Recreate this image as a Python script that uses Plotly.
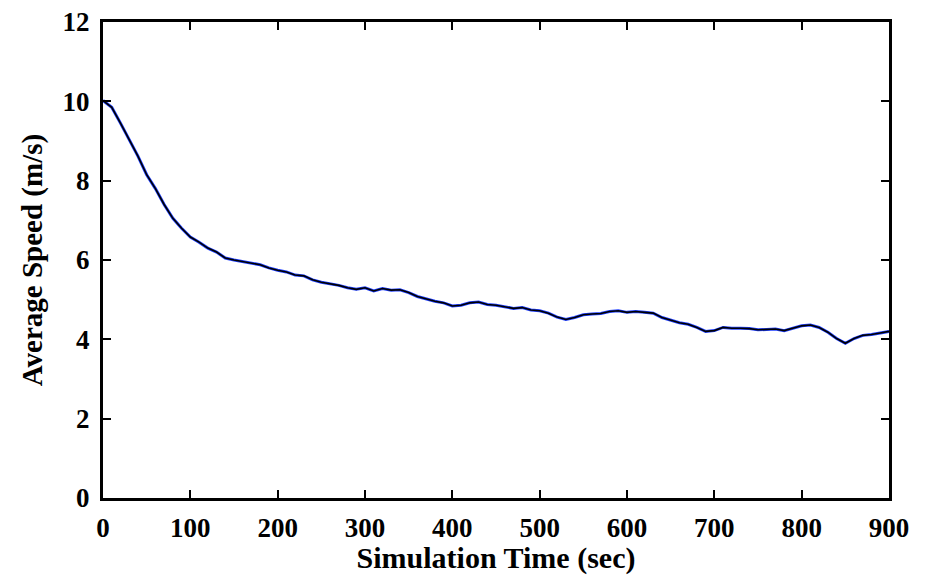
import plotly.graph_objects as go

time_sec = list(range(0, 901, 10))
avg_speed = [
    10.02, 9.85, 9.45, 9.05, 8.62, 8.15, 7.80, 7.40, 7.05, 6.80,
    6.58, 6.45, 6.30, 6.20, 6.05, 6.00, 5.96, 5.93, 5.88, 5.80,
    5.74, 5.70, 5.62, 5.60, 5.50, 5.44, 5.40, 5.36, 5.30, 5.26,
    5.30, 5.22, 5.28, 5.24, 5.25, 5.18, 5.08, 5.02, 4.96, 4.92,
    4.84, 4.86, 4.92, 4.94, 4.88, 4.86, 4.82, 4.78, 4.80, 4.74,
    4.72, 4.66, 4.56, 4.50, 4.55, 4.62, 4.64, 4.65, 4.70, 4.72,
    4.68, 4.70, 4.68, 4.66, 4.55, 4.48, 4.42, 4.38, 4.30, 4.20,
    4.22, 4.30, 4.28, 4.28, 4.27, 4.24, 4.25, 4.26, 4.22, 4.28,
    4.34, 4.36, 4.30, 4.18, 4.02, 3.90, 4.02, 4.10, 4.12, 4.16,
    4.20,
]
x_ticks = [0, 100, 200, 300, 400, 500, 600, 700, 800, 900]
y_ticks = [0, 2, 4, 6, 8, 10, 12]

FONT = "Liberation Serif, Times New Roman, serif"

fig = go.Figure()
fig.add_trace(go.Scatter(x=time_sec, y=avg_speed, mode="lines",
                         line=dict(color="#1f3fff", width=3), showlegend=False))
fig.add_trace(go.Scatter(x=time_sec, y=avg_speed, mode="lines",
                         line=dict(color="black", width=1.6), showlegend=False))

axis_common = dict(showline=True, linecolor="black", linewidth=3, mirror="ticks",
                   ticks="inside", ticklen=8, tickwidth=2, tickcolor="black",
                   showgrid=False, zeroline=False, automargin=False,
                   tickfont=dict(family=FONT, size=27, color="black", weight="bold"))

fig.update_xaxes(range=[0, 900], tickvals=x_ticks, ticklabelstandoff=4,
                 title=dict(text="Simulation Time (sec)", standoff=4,
                            font=dict(family=FONT, size=30, color="black", weight="bold")),
                 **axis_common)
fig.update_yaxes(range=[0, 12], tickvals=y_ticks, ticklabelstandoff=5,
                 title=dict(text="Average Speed (m/s)", standoff=12,
                            font=dict(family=FONT, size=29, color="black", weight="bold")),
                 **axis_common)

fig.update_layout(width=933, height=575, plot_bgcolor="white", paper_bgcolor="white",
                  margin=dict(l=103, r=44, t=22, b=77))
fig.write_html("out.html")
